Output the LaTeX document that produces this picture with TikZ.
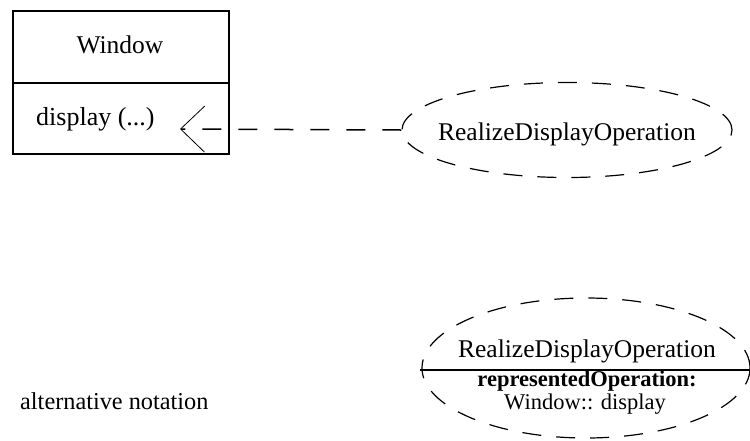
\documentclass[tikz,border=0pt]{standalone}
\usepackage{fontspec}
\setmainfont{Liberation Serif}
\usetikzlibrary{shapes.geometric,arrows.meta}
\begin{document}
\begin{tikzpicture}[x=1pt,y=-1pt,
  classpart/.style={draw,line width=1.8pt,rectangle,minimum width=216pt,inner sep=0pt,anchor=north west},
  usecase/.style={draw,ellipse,dash pattern=on 19pt off 15pt,line width=1.2pt,inner sep=0pt},
  lbl/.style={inner sep=0pt,anchor=base,font=\fontsize{25.5}{30}\selectfont},
  small/.style={inner sep=0pt,anchor=base,font=\fontsize{22.5}{26}\selectfont}]
\useasboundingbox (0,0) rectangle (750,440);
% class Window
\node[classpart,minimum height=72pt] (title) at (12,10) {};
\node[classpart,minimum height=71pt] (ops) at (12,82) {};
\node[lbl] (wname) at (120,53) {Window};
\node[lbl,anchor=base west,font=\fontsize{26}{30}\selectfont] (disp) at (36,125) {display (...)};
% realization ellipse
\node[usecase,minimum width=330pt,minimum height=95pt] (uc1) at (567,130) {};
\node[lbl] (uc1t) at (567,140) {RealizeDisplayOperation};
\coordinate (tip) at (180,129);
\draw[dash pattern=on 19pt off 17pt,line width=1.5pt,
  -{Straight Barb[length=24pt,width=46pt,line width=0.8pt]}] (uc1.west) -- (tip);
% alternative notation
\node[usecase,minimum width=328pt,minimum height=140pt] (uc2) at (586,368) {};
\coordinate (sepl) at (420,370);
\coordinate (sepr) at (750,370);
\draw[line width=1.5pt] (sepl) -- (sepr);
\node[lbl] (uc2t) at (587,357) {RealizeDisplayOperation};
\node[small] (rep) at (587,386) {\bfseries representedOperation:};
\node[small] (repv) at (585,409) {Window:: display};
\node[lbl,anchor=base west,font=\fontsize{24.3}{28}\selectfont] (alt) at (20,409) {alternative notation};
\end{tikzpicture}
\end{document}
